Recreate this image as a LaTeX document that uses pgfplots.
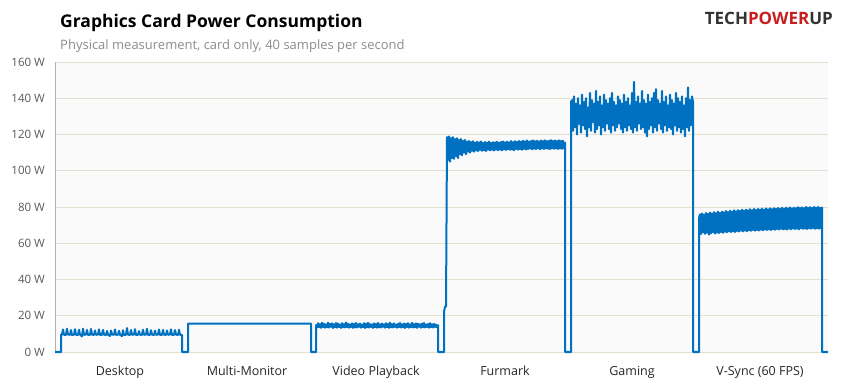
\documentclass[border=0pt]{standalone}
\usepackage{pgfplots}
\pgfplotsset{compat=1.18}
\usepackage{fontspec}
\setmainfont{Open Sans}
\definecolor{tpublue}{RGB}{0,112,192}
\definecolor{gridc}{RGB}{228,222,208}
\definecolor{bgc}{RGB}{250,250,250}
\definecolor{tickc}{RGB}{89,89,89}
\definecolor{subc}{RGB}{140,140,140}
\definecolor{logored}{RGB}{200,30,30}
\definecolor{logogray}{RGB}{51,51,51}
\begin{document}
\begin{tikzpicture}
\begin{axis}[
  at={(55bp,35bp)}, anchor=south west,
  scale only axis, width=773bp, height=290bp,
  xmin=55, xmax=828, ymin=0, ymax=160,
  clip=false,
  axis background/.style={fill=bgc},
  axis lines*=left,
  x axis line style={draw=none},
  y axis line style={draw=gray!60, line width=0.6bp},
  major tick length=0pt,
  ymajorgrids, grid style={gridc, line width=0.8bp},
  ytick={0,20,40,60,80,100,120,140,160},
  yticklabels={0 W,20 W,40 W,60 W,80 W,100 W,120 W,140 W,160 W},
  yticklabel style={font=\fontsize{11.5bp}{13bp}\selectfont, text=tickc, anchor=east, inner sep=0pt, xshift=-10bp},
  xtick={120,247,376,505,632,760},
  xticklabels={Desktop,Multi-Monitor,Video Playback,Furmark,Gaming,V-Sync (60 FPS)},
  xticklabel style={font=\fontsize{12.5bp}{14bp}\selectfont, text=black!85, anchor=base, inner sep=0pt, yshift=-24bp},
]
\addplot[tpublue, line width=2bp, line join=round] coordinates {
(55,0)(61,0)(61,9.5)
(62,9.6)(63,12.4)(64,9.5)(66,9.4)(67,12.9)(68,9.6)(70,9.5)(71,12.1)(72,9.3)(74,9.6)(75,12.6)(76,9.5)(78,9.4)(79,12.3)(80,9.6)(82,8.6)(83,12.9)(84,9.5)(86,9.6)(87,12.2)(88,9.4)(90,9.5)(91,12.7)(92,9.6)(94,9.4)(95,11.9)(96,9.5)(98,9.6)(99,12.5)(100,9.4)(102,9.5)(103,12.2)(104,9.6)(106,9.4)(107,11.6)(108,9.5)(110,8.9)(111,11.8)(112,9.6)(114,9.5)(115,12.4)(116,9.4)(118,9.6)(119,11.7)(120,9.5)(122,8.8)(123,12.0)(124,9.4)(126,9.5)(127,13.2)(128,9.6)(130,9.4)(131,12.1)(132,9.5)(134,9.6)(135,12.6)(136,9.4)(138,9.5)(139,11.5)(140,9.6)(142,9.4)(143,12.3)(144,9.5)(146,9.6)(147,12.8)(148,9.4)(150,9.5)(151,12.0)(152,9.6)(154,9.4)(155,11.8)(156,9.5)(158,9.6)(159,12.4)(160,9.4)(162,9.5)(163,12.2)(164,9.6)(166,9.4)(167,11.9)(168,9.5)(170,9.6)(171,12.5)(172,9.4)(174,9.5)(175,12.1)(176,9.6)(178,9.4)(179,12.3)(180,9.5)(182,9.5)
(182,0)(188,0)(188,15.6)(190,15.7)(250,15.6)(311,15.6)(311,0)(316,0)
(316,14.8)(317,13.5)(318,15.9)(319,13.7)(320,15.4)(321,13.3)(322,16.1)(323,13.8)(324,15.6)(325,13.4)(326,15.2)(327,13.6)(328,16.2)(329,13.5)(330,15.5)(331,13.9)(332,15.8)(333,13.2)(334,15.3)(335,13.7)(336,16.0)(337,13.4)(338,15.7)(339,13.8)(340,15.1)(341,13.3)(342,15.9)(343,13.6)(344,15.4)(345,13.5)(346,16.3)(347,13.7)(348,15.6)(349,13.4)(350,15.2)(351,13.8)(352,15.8)(353,13.3)(354,15.5)(355,13.6)(356,16.0)(357,13.5)(358,15.3)(359,13.9)(360,15.7)(361,13.4)(362,15.1)(363,13.7)(364,15.9)(365,13.2)(366,15.6)(367,13.6)(368,16.1)(369,13.5)(370,15.4)(371,13.8)(372,15.2)(373,13.3)(374,15.8)(375,13.7)(376,15.5)(377,13.4)(378,16.0)(379,13.6)(380,15.3)(381,13.5)(382,15.7)(383,13.9)(384,15.2)(385,13.4)(386,15.9)(387,13.7)(388,15.5)(389,13.3)(390,16.2)(391,13.6)(392,15.4)(393,13.5)(394,15.8)(395,13.8)(396,15.1)(397,13.4)(398,15.6)(399,13.7)(400,16.0)(401,13.5)(402,15.3)(403,13.6)(404,15.7)(405,13.2)(406,15.5)(407,13.8)(408,15.9)(409,13.4)(410,15.2)(411,13.7)(412,16.1)(413,13.5)(414,15.4)(415,13.6)(416,15.8)(417,13.3)(418,15.6)(419,13.9)(420,15.3)(421,13.4)(422,15.7)(423,13.6)(424,16.0)(425,13.5)(426,15.2)(427,13.8)(428,15.5)(429,13.4)(430,15.9)(431,13.7)(432,15.3)(433,13.5)(434,15.6)(435,13.8)(436,15.1)(437,13.6)(438,14.8)
(438,0)(444,0)(444,22)(445,25)(446,25)(447,118)
(447,118.5)(448,106)(449,119)(450,105)(451,118)(452,107)(453,118.5)(454,106.5)(455,117.5)(456,108)(457,118)(458,107)(459,117)(460,109)(461,117.5)(462,108.5)(463,116.5)(464,110)(465,117)(466,109)(467,116)(468,110.5)(469,116.5)(470,110)(471,115.8)(472,111)(473,116.3)(474,110.5)(475,115.5)(476,111.2)(477,116)(478,110.8)(479,115.6)(480,111.5)(481,116.2)(482,111)(483,115.4)(484,111.3)(485,115.9)(486,110.9)(487,115.5)(488,111.6)(489,116.1)(490,111.2)(491,115.3)(492,111.5)(493,115.8)(494,111.1)(495,115.6)(496,111.7)(497,116)(498,111.3)(499,115.5)(500,111.6)(501,115.9)(502,111.2)(503,116.2)(504,111.8)(505,115.7)(506,111.4)(507,116.1)(508,111.9)(509,115.6)(510,111.5)(511,116.4)(512,111.7)(513,115.8)(514,111.3)(515,116.3)(516,112)(517,115.9)(518,111.6)(519,116.5)(520,111.9)(521,116)(522,111.5)(523,116.6)(524,112.1)(525,116.2)(526,111.7)(527,116.7)(528,111.9)(529,116.1)(530,112.2)(531,116.5)(532,111.8)(533,116.8)(534,112.1)(535,116.3)(536,111.9)(537,116.6)(538,112.3)(539,116.2)(540,111.8)(541,116.7)(542,112.2)(543,116.4)(544,112)(545,116.8)(546,112.3)(547,116.3)(548,112.1)(549,116.6)(550,111.9)(551,116.9)(552,112.4)(553,116.5)(554,112.1)(555,116.7)(556,112.2)(557,116.4)(558,112)(559,116.8)(560,112.3)(561,116.5)(562,112.1)(563,116.6)(564,112.4)(565,115.5)
(565,0)(571,0)(571,138)
(572,139)(573,122)(574,141)(575,124)(576,137)(577,120)(578,140)(579,126)(580,136)(581,121)(582,142)(583,125)(584,138)(585,123)(586,140)(587,119)(588,135)(589,124)(590,143)(591,122)(592,139)(593,127)(594,137)(595,121)(596,144)(597,123)(598,138)(599,125)(600,141)(601,120)(602,136)(603,124)(604,142)(605,122)(606,139)(607,126)(608,137)(609,123)(610,140)(611,121)(612,143)(613,125)(614,138)(615,122)(616,136)(617,124)(618,141)(619,126)(620,139)(621,123)(622,137)(623,121)(624,142)(625,124)(626,138)(627,122)(628,140)(629,125)(630,136)(631,123)(632,143)(633,121)(634,149)(635,124)(636,138)(637,122)(638,141)(639,126)(640,137)(641,123)(642,144)(643,124)(644,139)(645,121)(646,137)(647,119)(648,142)(649,123)(650,138)(651,125)(652,140)(653,121)(654,143)(655,124)(656,145)(657,122)(658,139)(659,126)(660,137)(661,123)(662,144)(663,121)(664,138)(665,125)(666,141)(667,122)(668,136)(669,124)(670,142)(671,123)(672,139)(673,120)(674,137)(675,125)(676,143)(677,122)(678,140)(679,124)(680,138)(681,121)(682,141)(683,123)(684,136)(685,119)(686,140)(687,124)(688,146)(689,122)(690,139)(691,125)(692,141)(693,138)
(693,0)(699,0)(699,74)
(700,76)(701,65)(702,76.5)(703,66)(704,75.8)(705,65.2)(706,76.8)(707,65.8)(708,76.2)(709,64.8)(710,77)(711,65.5)(712,76.4)(713,66.1)(714,77.2)(715,65.3)(716,76.6)(717,65.9)(718,77.4)(719,65.6)(720,76.8)(721,66.2)(722,77.5)(723,65.7)(724,77)(725,66.3)(726,77.8)(727,66)(728,77.2)(729,66.5)(730,78)(731,66.1)(732,77.4)(733,66.6)(734,78.2)(735,66.2)(736,77.6)(737,66.7)(738,78.3)(739,66.4)(740,77.8)(741,66.9)(742,78.5)(743,66.5)(744,78)(745,67)(746,78.6)(747,66.6)(748,78.1)(749,67.1)(750,78.8)(751,66.8)(752,78.2)(753,67.2)(754,78.9)(755,66.9)(756,78.4)(757,67.3)(758,79)(759,67)(760,78.5)(761,67.4)(762,79.1)(763,67.1)(764,78.6)(765,67.5)(766,79.2)(767,67.2)(768,78.7)(769,67.6)(770,79.3)(771,67.3)(772,78.8)(773,67.7)(774,79.4)(775,67.4)(776,78.9)(777,67.8)(778,79.5)(779,67.5)(780,79)(781,67.9)(782,79.6)(783,67.6)(784,79.1)(785,67.8)(786,79.7)(787,67.5)(788,79.2)(789,68)(790,79.8)(791,67.7)(792,79.3)(793,68.1)(794,79.6)(795,67.8)(796,79.4)(797,68)(798,79.9)(799,67.7)(800,79.5)(801,68.2)(802,79.8)(803,67.9)(804,79.4)(805,68.1)(806,80)(807,67.8)(808,79.6)(809,68.2)(810,79.9)(811,68)(812,79.5)(813,68.3)(814,80.1)(815,67.9)(816,79.7)(817,68.2)(818,80)(819,68)(820,79.6)(821,68.3)(822,79.8)
(822,0)(828,0)
};
\end{axis}
\node[anchor=base west, inner sep=0pt, font=\fontsize{17.5bp}{20bp}\selectfont\bfseries, text=black] at (60bp,359bp) {Graphics Card Power Consumption};
\node[anchor=base west, inner sep=0pt, font=\fontsize{13bp}{15bp}\selectfont, text=subc] at (60bp,337bp) {Physical measurement, card only, 40 samples per second};
\node[anchor=base east, inner sep=0pt, font=\fontsize{17bp}{20bp}\selectfont\bfseries] at (833bp,362bp) {\textcolor{logogray}{TECH}\textcolor{logored}{POWER}\textcolor{logogray}{UP}};
\pgfresetboundingbox
\useasboundingbox (0,0) rectangle (841bp,387bp);
\end{tikzpicture}
\end{document}
